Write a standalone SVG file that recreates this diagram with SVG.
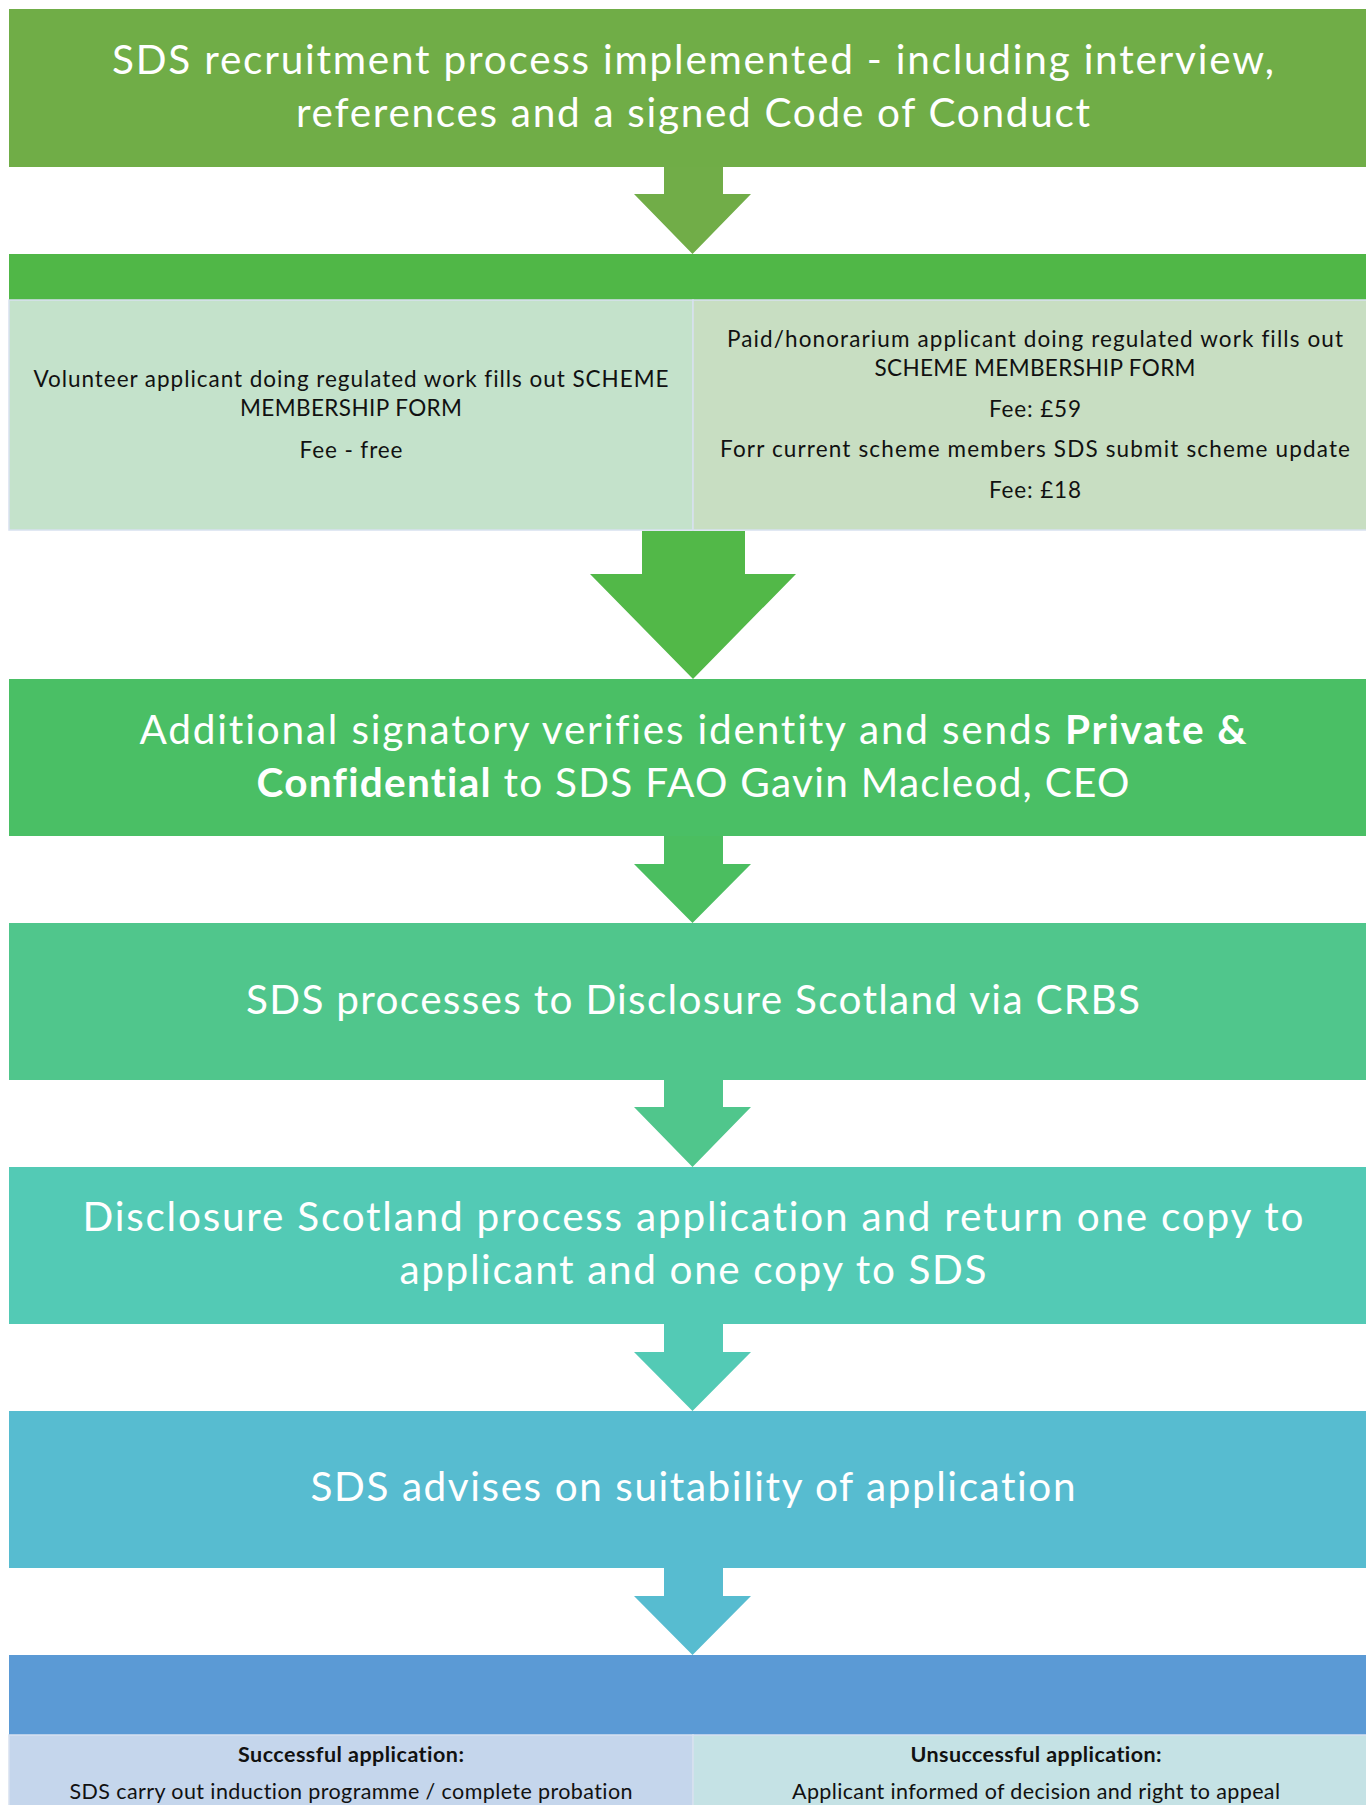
<svg xmlns="http://www.w3.org/2000/svg" width="1366" height="1805" viewBox="0 0 1366 1805">
  <style>
    text { font-variant-ligatures: none; font-feature-settings: "liga" 0, "dlig" 0; }
    .big { font-family: Lato, "Open Sans", "Liberation Sans", sans-serif; font-size: 40.5px; fill: #ffffff; text-anchor: middle; }
    .small { font-family: Lato, "Open Sans", "Liberation Sans", sans-serif; font-size: 22.5px; fill: #111111; text-anchor: middle; }
    .foot { font-family: Lato, "Open Sans", "Liberation Sans", sans-serif; font-size: 21.5px; fill: #111111; text-anchor: middle; }
    .b { font-weight: 700; }
    .cell { stroke: #d7e1ef; stroke-width: 1.5; }
  </style>
  <rect width="1366" height="1805" fill="#ffffff"/>

  <!-- Block arrows between steps -->
  <g id="connectors">
    <polygon fill="#71ad48" points="664,167 723,167 723,194 751,194 692.5,254 634,194 664,194"/>
    <polygon fill="#52b848" points="642,531 745,531 745,574 796,574 693,679 590,574 642,574"/>
    <polygon fill="#4bbe60" points="664,836 723,836 723,864 751,864 692.5,923 634,864 664,864"/>
    <polygon fill="#50c68c" points="664,1080 723,1080 723,1107 751,1107 692.5,1167 634,1107 664,1107"/>
    <polygon fill="#53cab5" points="664,1324 723,1324 723,1352 751,1352 692.5,1411 634,1352 664,1352"/>
    <polygon fill="#57bcd0" points="664,1568 723,1568 723,1596 751,1596 692.5,1655 634,1596 664,1596"/>
  </g>

  <!-- Step 1: recruitment -->
  <g id="step-recruitment">
    <rect x="9" y="9" width="1368" height="158" fill="#70ad47"/>
    <text class="big" x="693" y="74" textLength="1162">SDS recruitment process implemented - including interview,</text>
    <text class="big" x="693" y="127" textLength="794">references and a signed Code of Conduct</text>
  </g>

  <!-- Step 2: scheme membership forms -->
  <g id="step-membership">
    <rect x="9" y="254" width="1368" height="46" fill="#50b747"/>
    <rect class="cell" x="9" y="300" width="684" height="230" fill="#c4e2cb"/>
    <rect class="cell" x="693" y="300" width="684" height="230" fill="#c8dec2"/>
    <text class="small" x="351" y="387" textLength="635">Volunteer applicant doing regulated work fills out SCHEME</text>
    <text class="small" x="351" y="416" textLength="222">MEMBERSHIP FORM</text>
    <text class="small" x="351" y="458" textLength="103">Fee - free</text>
    <text class="small" x="1035" y="347" textLength="616">Paid/honorarium applicant doing regulated work fills out</text>
    <text class="small" x="1035" y="376" textLength="321">SCHEME MEMBERSHIP FORM</text>
    <text class="small" x="1035" y="417" textLength="92">Fee: £59</text>
    <text class="small" x="1035" y="457" textLength="630">Forr current scheme members SDS submit scheme update</text>
    <text class="small" x="1035" y="498" textLength="92">Fee: £18</text>
  </g>

  <!-- Step 3: identity check -->
  <g id="step-identity">
    <rect x="9" y="679" width="1368" height="157" fill="#4abf65"/>
    <text class="big" x="693" y="744" textLength="1107">Additional signatory verifies identity and sends <tspan class="b">Private &amp;</tspan></text>
    <text class="big" x="693" y="797" textLength="873"><tspan class="b">Confidential</tspan> to SDS FAO Gavin Macleod, CEO</text>
  </g>

  <!-- Step 4: CRBS processing -->
  <g id="step-crbs">
    <rect x="9" y="923" width="1368" height="157" fill="#50c68c"/>
    <text class="big" x="693" y="1014" textLength="894">SDS processes to Disclosure Scotland via CRBS</text>
  </g>

  <!-- Step 5: Disclosure Scotland returns copies -->
  <g id="step-disclosure">
    <rect x="9" y="1167" width="1368" height="157" fill="#53cab5"/>
    <text class="big" x="693" y="1231" textLength="1221">Disclosure Scotland process application and return one copy to</text>
    <text class="big" x="693" y="1284" textLength="587">applicant and one copy to SDS</text>
  </g>

  <!-- Step 6: suitability advice -->
  <g id="step-suitability">
    <rect x="9" y="1411" width="1368" height="157" fill="#57bcd0"/>
    <text class="big" x="693" y="1501" textLength="765">SDS advises on suitability of application</text>
  </g>

  <!-- Step 7: outcome -->
  <g id="step-outcome">
    <rect x="9" y="1655" width="1368" height="80" fill="#5b9ad5"/>
    <rect class="cell" x="9" y="1735" width="684" height="80" fill="#c5d6ec"/>
    <rect class="cell" x="693" y="1735" width="684" height="80" fill="#c5e2e5"/>
    <text class="foot b" x="351" y="1762" textLength="226">Successful application:</text>
    <text class="foot" x="351" y="1799" textLength="563">SDS carry out induction programme / complete probation</text>
    <text class="foot b" x="1036" y="1762" textLength="251">Unsuccessful application:</text>
    <text class="foot" x="1036" y="1799" textLength="488">Applicant informed of decision and right to appeal</text>
  </g>
</svg>
